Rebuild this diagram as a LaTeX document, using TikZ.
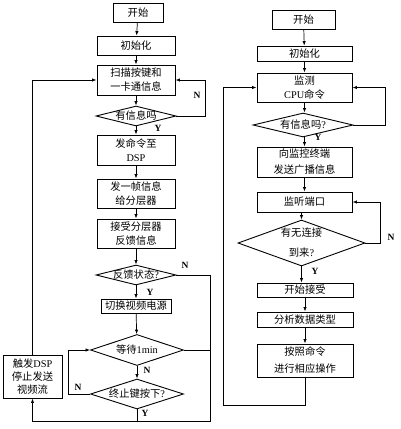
\documentclass[tikz,border=0pt]{standalone}
\usepackage{fontspec}
\setmainfont{Liberation Serif}
\newfontfamily\cjk{Noto Sans CJK SC}
\usetikzlibrary{shapes.geometric,arrows.meta}
\begin{document}
\begin{tikzpicture}[x=1pt,y=-1pt,
 box/.style={draw,line width=0.9pt,inner sep=0,font=\cjk\fontsize{10.3}{14}\selectfont,align=center},
 dia/.style={draw,diamond,line width=0.9pt,inner sep=0},
 dtext/.style={font=\cjk\fontsize{10.3}{14}\selectfont,align=center,inner sep=0},
 conn/.style={line width=0.7pt},
 arr/.style={conn,-{Latex[length=4.5pt,width=3.4pt]}},
 yn/.style={font=\bfseries\fontsize{9.5}{10}\selectfont,inner sep=0}]
\useasboundingbox (0,0) rectangle (400,429);

% ---------- left chart ----------
\node[box,minimum width=50,minimum height=19] (l1) at (138,12.5) {开始};
\node[box,minimum width=78,minimum height=19] (l2) at (136,45.5) {初始化};
\node[box,minimum width=78,minimum height=30] (l3) at (136,80) {扫描按键和\\一卡通信息};
\node[dia,minimum width=80,minimum height=20] (d1) at (136,116) {};
\node[dtext] at (d1) {有信息吗};
\node[box,minimum width=78,minimum height=30] (l4) at (136,150) {发命令至\\{\rmfamily DSP}};
\node[box,minimum width=78,minimum height=29] (l5) at (136,193.5) {发一帧信息\\给分层器};
\node[box,minimum width=78,minimum height=29] (l6) at (136,233.5) {接受分层器\\反馈信息};
\node[dia,minimum width=80,minimum height=20] (d2) at (136,275) {};
\node[dtext] at (d2) {反馈状态{\rmfamily ?}};
\node[box,minimum width=70,minimum height=14] (l7) at (136,306) {切换视频电源};
\node[dia,minimum width=93,minimum height=31] (d3) at (137,350) {};
\node[dtext] at (d3) {等待{\rmfamily 1min}};
\node[dia,minimum width=93,minimum height=30] (d4) at (137,394) {};
\node[dtext] at (d4) {终止键按下{\rmfamily ?}};
\node[box,minimum width=59,minimum height=43,font=\cjk\fontsize{10.3}{13}\selectfont] (lt) at (32.5,376.5) {触发{\rmfamily DSP}\\停止发送\\视频流};

\coordinate (lr1) at (205,116);
\coordinate (lr2) at (210,275);
\coordinate (lb) at (210,421);
\coordinate (lbl) at (32.5,421);
\coordinate (ll) at (68,394);

\draw[arr] (l1) -- (l2);
\draw[arr] (l2) -- (l3);
\draw[arr] (l3) -- (d1);
\draw[arr] (d1) -- (l4);
\draw[arr] (l4) -- (l5);
\draw[arr] (l5) -- (l6);
\draw[arr] (l6) -- (d2);
\draw[arr] (d2) -- (l7);
\draw[arr] (l7) -- (d3);
\draw[arr] (d3) -- (d4);
\draw[arr] (d1.east) -- (lr1) |- (l3.east);
\draw[arr] (d2.east) -- (lr2) -- (lb) -- (lbl) -- (lt.south);
\draw[conn] (d3.east) -- (lr2 |- d3.east);
\draw[conn] (d4.south) -- (d4.south |- lb);
\draw[arr] (d4.west) -- (ll) |- (d3.west);
\draw[arr] (lt.north) |- (l3.west);

\node[yn] at (158,128) {Y};
\node[yn] at (197,95) {N};
\node[yn] at (185,265) {N};
\node[yn] at (150,292) {Y};
\node[yn] at (147,370) {N};
\node[yn] at (145,413) {Y};
\node[yn] at (78,387) {N};

% ---------- right chart ----------
\node[box,minimum width=63,minimum height=19] (r1) at (303.5,19.5) {开始};
\node[box,minimum width=95,minimum height=15] (r2) at (304.5,53.5) {初始化};
\node[box,minimum width=95,minimum height=29] (r3) at (304.5,87.5) {监测\\{\rmfamily CPU}命令};
\node[dia,minimum width=100,minimum height=24] (rd1) at (303,125) {};
\node[dtext] at (rd1) {有信息吗{\rmfamily ?}};
\node[box,minimum width=95,minimum height=30,font=\cjk\fontsize{10.3}{16}\selectfont] (r4) at (304.5,162) {向监控终端\\发送广播信息};
\node[box,minimum width=95,minimum height=20] (r5) at (304.5,202) {监听端口};
\node[dia,minimum width=127,minimum height=46] (rd2) at (301.5,243) {};
\node[dtext,font=\cjk\fontsize{10.3}{20}\selectfont] at (rd2) {有无连接\\到来{\rmfamily ?}};
\node[box,minimum width=96,minimum height=14] (r6) at (305,290) {开始接受};
\node[box,minimum width=96,minimum height=15] (r7) at (305,319.5) {分析数据类型};
\node[box,minimum width=96,minimum height=33,font=\cjk\fontsize{10.3}{17}\selectfont] (r8) at (305,360.5) {按照命令\\进行相应操作};

\coordinate (rr1) at (385,125);
\coordinate (rr2) at (380,243);
\coordinate (rb) at (223,405);

\draw[arr] (r1) -- (r2);
\draw[arr] (r2) -- (r3);
\draw[arr] (r3) -- (r3 |- rd1.north);
\draw[arr] (rd1.south -| r4) -- (r4);
\draw[arr] (r4) -- (r5);
\draw[arr] (r5.south -| rd2) -- (rd2.north);
\draw[arr] (rd2.south) -- (rd2.south |- r6.north);
\draw[arr] (r6) -- (r7);
\draw[arr] (r7) -- (r8);
\draw[arr] (rd1.east) -- (rr1) |- (r3.east);
\draw[arr] (rd2.east) -- (rr2) |- (r5.east);
\draw[arr] (r8.south) -- (r8.south |- rb) -- (rb) |- (r3.west);

\node[yn] at (318,137) {Y};
\node[yn] at (391,237) {N};
\node[yn] at (315,271) {Y};
\end{tikzpicture}
\end{document}
